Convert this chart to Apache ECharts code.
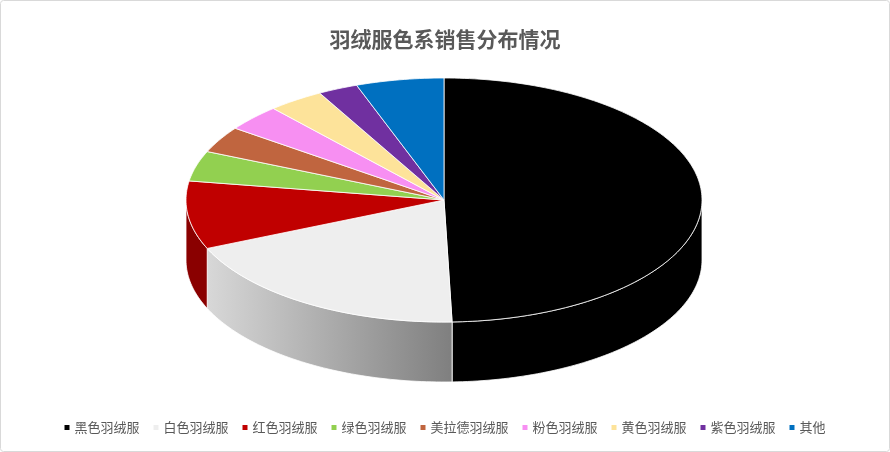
<!DOCTYPE html>
<html><head><meta charset="utf-8">
<script src="https://cdn.jsdelivr.net/npm/echarts@6/dist/echarts.min.js"></script>
<style>html,body{margin:0;padding:0;background:#fff}#c{width:890px;height:452px}</style>
</head><body><div id="c"></div>
<script>
const categories=['黑色羽绒服','白色羽绒服','红色羽绒服','绿色羽绒服','美拉德羽绒服','粉色羽绒服','黄色羽绒服','紫色羽绒服','其他'];
const values=[49.5,19,9,4,3.5,3.5,3.5,2.5,5.5];
const topColors=['#000000','#eeeeee','#c00000','#92d050','#c0653f','#f78ff2','#fde39a','#7030a0','#0070c0'];
const sideColors=['#000000','#9a9a9a','#8a0000','#6a9a3a','#8a4a2e','#b066ad','#b9a670','#50207a','#00508a'];
const total=values.reduce((a,b)=>a+b,0);
const starts=[];let acc=0;values.forEach(v=>{starts.push(acc/total*2*Math.PI);acc+=v;});
const G={cx:444,cy:200,rx:258,ry:122,d:60};
function pt(t,dy){return [G.cx+G.rx*Math.sin(t),G.cy-G.ry*Math.cos(t)+(dy||0)];}
function arc(a,b,dy){const n=Math.max(2,Math.ceil((b-a)/0.02));const p=[];for(let i=0;i<=n;i++)p.push(pt(a+(b-a)*i/n,dy));return p;}
function sideItem(params,api){
  const i=params.dataIndex;const a=starts[i],b=a+values[i]/total*2*Math.PI;
  const s=Math.max(a,Math.PI/2),e=Math.min(b,Math.PI*1.5);
  if(e<=s)return null;
  const top=arc(s,e,0),bot=arc(s,e,G.d).reverse();
  let fill=sideColors[i];
  if(i===1)fill=new echarts.graphic.LinearGradient(0,0,1,0,[{offset:0,color:'#d8d8d8'},{offset:1,color:'#7f7f7f'}]);
  return {type:'polygon',shape:{points:top.concat(bot)},style:{fill:fill,stroke:'#ffffff',lineWidth:0.8}};
}
function topItem(params,api){
  const i=params.dataIndex;const a=starts[i],b=a+values[i]/total*2*Math.PI;
  const p=[[G.cx,G.cy]].concat(arc(a,b,0));
  return {type:'polygon',shape:{points:p},style:{fill:topColors[i],stroke:'#ffffff',lineWidth:0.8}};
}
const chart=echarts.init(document.getElementById('c'));
chart.setOption({
  animation:false,
  title:{text:'羽绒服色系销售分布情况',left:'center',top:24,textStyle:{fontSize:21,color:'#595959',fontWeight:'bold',fontFamily:'Noto Sans CJK SC'}},
  legend:{top:416,left:'center',itemWidth:5,itemHeight:5,itemGap:14,icon:'rect',textStyle:{fontSize:13,color:'#595959',fontFamily:'Noto Sans CJK SC'},data:categories},
  graphic:[{type:'rect',shape:{x:0.5,y:0.5,width:889,height:451,r:3},style:{fill:'none',stroke:'#d9d9d9'},silent:true}],
  xAxis:{show:false},yAxis:{show:false},
  series:[
    {type:'pie',radius:[0,0],center:[-100,-100],label:{show:false},silent:true,
     data:categories.map((n,i)=>({name:n,value:values[i],itemStyle:{color:topColors[i]}}))},
    {type:'custom',coordinateSystem:'none',renderItem:sideItem,data:values,silent:true},
    {type:'custom',coordinateSystem:'none',renderItem:topItem,data:values,silent:true}
  ]
});
</script></body></html>
